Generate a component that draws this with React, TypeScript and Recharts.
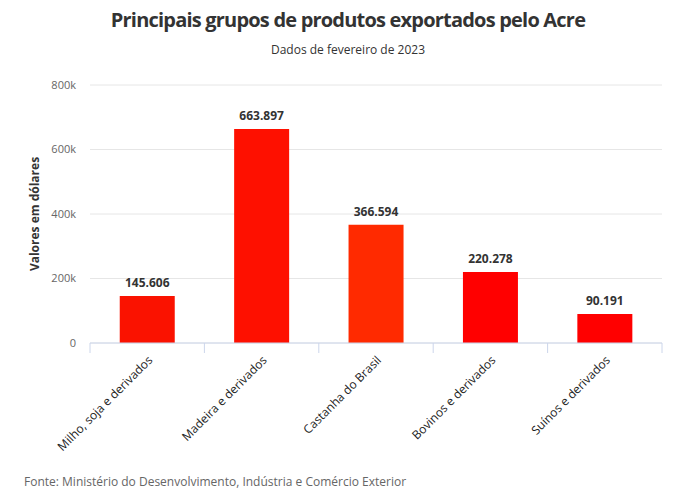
import React from "react";
import { BarChart, Bar, XAxis, YAxis, CartesianGrid, LabelList, Cell } from "recharts";

const categories = [
  "Milho, soja e derivados",
  "Madeira e derivados",
  "Castanha do Brasil",
  "Bovinos e derivados",
  "Suínos e derivados",
];
const values = [145606, 663897, 366594, 220278, 90191];
const colors = ["#fa1200", "#fe1000", "#ff2a00", "#ff0000", "#ff0000"];
const yTicks = [0, 200000, 400000, 600000, 800000];

const data = categories.map((name, i) => ({ name, value: values[i] }));

const FONT = "'Open Sans', sans-serif";
const BAND = 572 / 5;

const fmtThousands = (v: number) => String(v).replace(/\B(?=(\d{3})+(?!\d))/g, ".");
const fmtTick = (v: number) => (v === 0 ? "0" : `${v / 1000}k`);

const XTick = (props: any) => {
  const { x, y, payload, index } = props;
  const left = x - BAND / 2;
  const right = x + BAND / 2;
  const ax = x + 6;
  const ay = y + 18;
  return (
    <g>
      <line x1={left} x2={left} y1={y} y2={y + 10} stroke="#ccd6eb" strokeWidth={1} />
      {index === categories.length - 1 && (
        <line x1={right} x2={right} y1={y} y2={y + 10} stroke="#ccd6eb" strokeWidth={1} />
      )}
      <text
        x={ax}
        y={ay}
        textAnchor="end"
        transform={`rotate(-45, ${ax}, ${ay})`}
        fill="#222222"
        fontSize={12}
        fontWeight={500}
        fontFamily={FONT}
      >
        {payload.value}
      </text>
    </g>
  );
};

export default function App() {
  return (
    <div style={{ position: "absolute", left: 0, top: 0, width: 673, height: 495, background: "#fff", fontFamily: FONT }}>
      <BarChart
        width={673}
        height={495}
        data={data}
        margin={{ top: 85, right: 11, bottom: 0, left: 0 }}
        barCategoryGap="26%"
      >
        <CartesianGrid vertical={false} stroke="#e6e6e6" />
        <XAxis
          dataKey="name"
          height={152}
          interval={0}
          tickLine={false}
          tickSize={0}
          tickMargin={0}
          axisLine={{ stroke: "#ccd6eb" }}
          tick={<XTick />}
        />
        <YAxis
          width={90}
          domain={[0, 800000]}
          ticks={yTicks}
          tickFormatter={fmtTick}
          axisLine={false}
          tickLine={false}
          tickSize={6}
          tickMargin={8}
          tick={{ fill: "#666666", fontSize: 11, fontFamily: FONT }}
          label={{
            value: "Valores em dólares",
            angle: -90,
            position: "insideLeft",
            dx: 30,
            dy: 0,
            style: { textAnchor: "middle", fill: "#333333", fontSize: 12, fontWeight: 700, fontFamily: FONT },
          }}
        />
        <Bar dataKey="value" isAnimationActive={false}>
          {data.map((d, i) => (
            <Cell key={d.name} fill={colors[i]} />
          ))}
          <LabelList
            dataKey="value"
            position="top"
            offset={9}
            formatter={(v: any) => fmtThousands(Number(v))}
            style={{ fill: "#333333", fontSize: 12, fontWeight: 700, fontFamily: FONT }}
          />
        </Bar>
      </BarChart>
      <div style={{ position: "absolute", left: 0, width: 696, top: 6, textAlign: "center", fontSize: 20, fontWeight: 700, color: "#333333", lineHeight: "28px", letterSpacing: "-0.8px" }}>
        Principais grupos de produtos exportados pelo Acre
      </div>
      <div style={{ position: "absolute", left: 0, width: 696, top: 42, textAlign: "center", fontSize: 12, color: "#333333", lineHeight: "16px" }}>
        Dados de fevereiro de 2023
      </div>
      <div style={{ position: "absolute", left: 24, top: 474, fontSize: 12, color: "#666666", lineHeight: "16px" }}>
        Fonte: Ministério do Desenvolvimento, Indústria e Comércio Exterior
      </div>
    </div>
  );
}
